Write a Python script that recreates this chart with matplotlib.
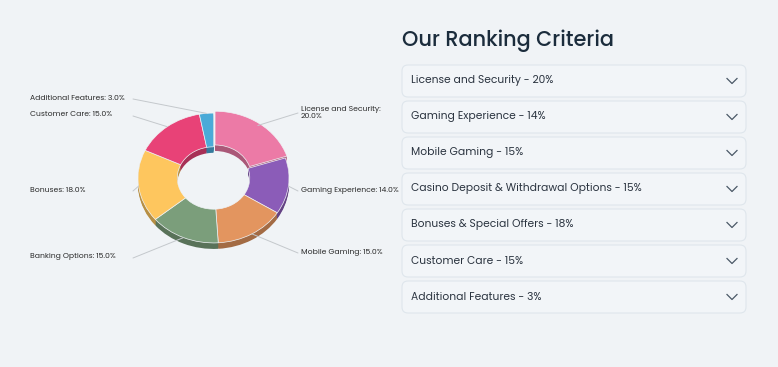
import math
import matplotlib.pyplot as plt
from matplotlib.patches import FancyBboxPatch
from matplotlib.transforms import Affine2D
import matplotlib.colors as mcolors

# chart data
slice_labels = ["License and Security", "Gaming Experience", "Mobile Gaming",
                "Banking Options", "Bonuses", "Customer Care",
                "Additional Features"]
slice_values = [20.0, 14.0, 15.0, 15.0, 18.0, 15.0, 3.0]
slice_colors = ["#EC7AA6", "#8B5CB8", "#E3955F", "#7B9E7B",
                "#FEC65E", "#E84277", "#4AAAD8"]

# accordion list on the right
criteria_names = ["License and Security", "Gaming Experience", "Mobile Gaming",
                  "Casino Deposit & Withdrawal Options",
                  "Bonuses & Special Offers", "Customer Care",
                  "Additional Features"]
criteria_pct = [20, 14, 15, 15, 18, 15, 3]

BG = "#F0F3F6"
W, H = 778, 367
FONT = ["Poppins", "Lato", "DejaVu Sans"]

fig = plt.figure(figsize=(W / 100, H / 100), dpi=100, facecolor=BG)
ax = fig.add_axes([0, 0, 1, 1])
ax.set_facecolor(BG)


def py(y):
    # pixel y measured from the top -> data y
    return H - y


# --- donut with a fake 3d side ---
cx, cy = 213.5, py(178)
R = 75.5
sy = 0.86
squash = Affine2D().translate(-cx, -cy).scale(1, sy).translate(cx, cy) + ax.transData
explode = [0.035 * R, 0, 0, 0, 0, 0, 0]


def darker(c, f=0.72):
    r, g, b = mcolors.to_rgb(c)
    return (r * f, g * f, b * f)


dark_colors = [darker(c) for c in slice_colors]
depth = 6
for d in range(depth, 0, -1):
    wedges, _ = ax.pie(slice_values, colors=dark_colors, startangle=90,
                       counterclock=False, radius=R, center=(cx, cy - d / sy),
                       explode=explode,
                       wedgeprops=dict(width=R * 0.52, linewidth=0))
    for w in wedges:
        w.set_transform(squash)

wedges, _ = ax.pie(slice_values, colors=slice_colors, startangle=90,
                   counterclock=False, radius=R, center=(cx, cy),
                   explode=explode,
                   wedgeprops=dict(width=R * 0.52, linewidth=0.5,
                                   edgecolor=BG))
for w in wedges:
    w.set_transform(squash)

# --- slice labels with leader lines ---
label_pos = [(301, 113, "left"), (301, 190, "left"), (301, 252, "left"),
             (30, 257, "right"), (30, 190, "right"), (30, 115, "right"),
             (30, 98, "right")]
total = sum(slice_values)
cum = 0
for name, val, (lx, ly, side) in zip(slice_labels, slice_values, label_pos):
    mid = (cum + val / 2) / total * 2 * math.pi
    cum += val
    ax_x = cx + R * math.sin(mid)
    ax_y = cy + R * sy * math.cos(mid)
    if name == "License and Security":
        txt = f"{name}:\n{val:.1f}%"
        end_x, end_y = 298, py(113)
    else:
        txt = f"{name}: {val:.1f}%"
        if side == "left":
            end_x, end_y = 298, py(ly + 1)
        else:
            end_x, end_y = 133, py(ly + 1)
    ax.plot([ax_x, end_x], [ax_y, end_y], color="#C4C8CC", lw=0.7,
            zorder=1, solid_capstyle="round")
    ax.text(lx, py(ly), txt, fontsize=5.5, color="#2A2A2A",
            ha="left", va="center", linespacing=0.9, family=FONT)

# --- right panel ---
ax.text(402, py(41), "Our Ranking Criteria", fontsize=15, color="#1B2C3C",
        ha="left", va="center", family=FONT, fontweight="medium")

box_x, box_w, box_h = 402, 344, 32
for i, (name, pct) in enumerate(zip(criteria_names, criteria_pct)):
    top = 65 + i * 36
    ax.add_patch(FancyBboxPatch((box_x, py(top + box_h)), box_w, box_h,
                                boxstyle="round,pad=0,rounding_size=6",
                                facecolor="#F2F5F8", edgecolor="#DFE6EC",
                                linewidth=0.8))
    ax.text(411, py(top + 16), f"{name} - {pct}%", fontsize=7.7,
            color="#2B3440", ha="left", va="center", family=FONT)
    ccy = py(top + 16)
    ax.plot([727, 732, 737], [ccy + 2.5, ccy - 2.5, ccy + 2.5],
            color="#4A5866", lw=0.9)

ax.set_xlim(0, W)
ax.set_ylim(0, H)
ax.set_aspect("auto")
ax.axis("off")
fig.savefig("out.png", dpi=100, facecolor=BG)
